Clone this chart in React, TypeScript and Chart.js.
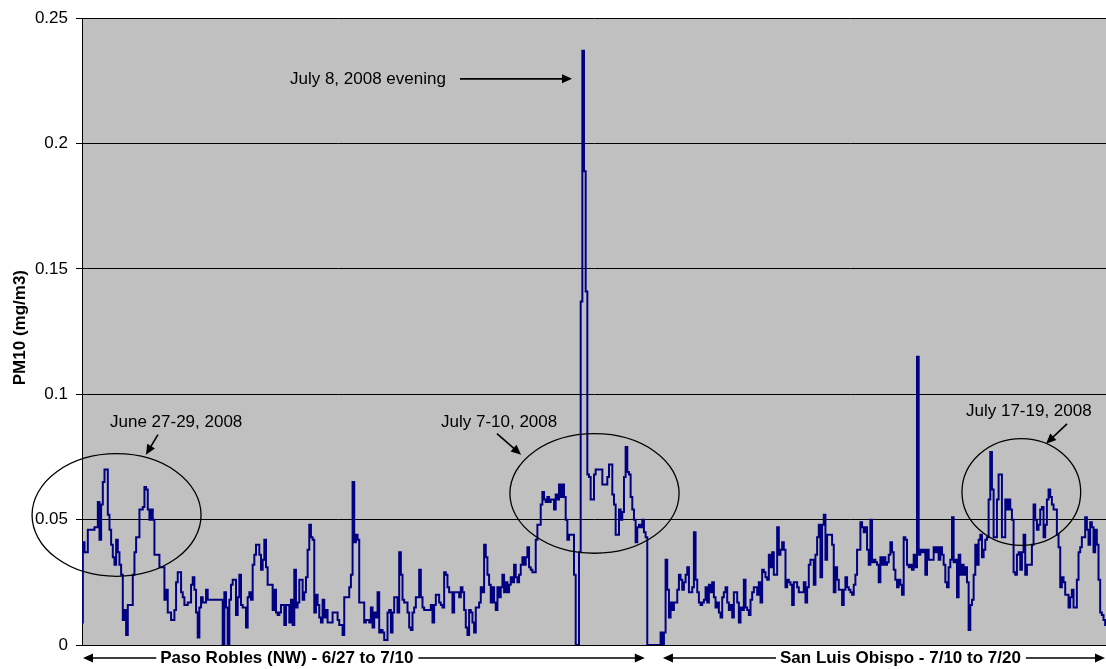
import React, { useEffect, useRef } from "react";
import { Chart, registerables } from "chart.js";

Chart.register(...registerables);

const FONT = '"Liberation Sans", Arial, Helvetica, sans-serif';

// Hourly PM10 readings (mg/m3), Paso Robles (NW) 6/27-7/10 then San Luis Obispo 7/10-7/20
const seg1 = [
  0.009, 0.041, 0.037, 0.037, 0.046, 0.046, 0.046, 0.046, 0.047, 0.047,
  0.057, 0.042, 0.056, 0.065, 0.070, 0.070, 0.052, 0.046, 0.040, 0.035,
  0.032, 0.042, 0.037, 0.032, 0.028, 0.010, 0.014, 0.004, 0.016, 0.016,
  0.016, 0.028, 0.037, 0.043, 0.043, 0.054, 0.054, 0.055, 0.063, 0.062,
  0.054, 0.050, 0.054, 0.050, 0.036, 0.036, 0.036, 0.031, 0.031, 0.031,
  0.018, 0.022, 0.013, 0.013, 0.010, 0.010, 0.014, 0.025, 0.029, 0.029,
  0.021, 0.019, 0.016, 0.016, 0.017, 0.017, 0.024, 0.027, 0.022, 0.013,
  0.003, 0.015, 0.019, 0.017, 0.017, 0.022,
];
const seg2 = [
  0.018, 0.018, 0.018, 0.018, 0.018, 0.018, 0.018, 0.018, 0.018, 0.000,
  0.021, 0.015, 0.000, 0.018, 0.024, 0.026, 0.026, 0.012, 0.019, 0.028,
  0.016, 0.015, 0.015, 0.007, 0.019, 0.021, 0.018, 0.032, 0.036, 0.040,
  0.040, 0.036, 0.030, 0.034, 0.042, 0.031, 0.024, 0.024, 0.024, 0.014,
  0.022, 0.013, 0.012, 0.013, 0.016, 0.016, 0.008, 0.016, 0.016, 0.009,
  0.018, 0.008, 0.030, 0.015, 0.017, 0.026, 0.026, 0.018, 0.021, 0.027,
  0.038, 0.048, 0.043, 0.042, 0.013, 0.020, 0.016, 0.011, 0.009, 0.018,
  0.011, 0.014, 0.009, 0.009, 0.009, 0.013, 0.013, 0.013,
];
const seg3 = [
  0.010, 0.008, 0.008, 0.004, 0.019, 0.019, 0.019, 0.023, 0.028, 0.065,
  0.041, 0.044, 0.042, 0.017, 0.017, 0.017, 0.009, 0.010, 0.010, 0.009,
  0.015, 0.007, 0.013, 0.011, 0.021, 0.005, 0.006, 0.005, 0.002, 0.002,
  0.013, 0.014, 0.005, 0.013, 0.019, 0.019, 0.013, 0.037, 0.028, 0.018,
  0.017, 0.017, 0.013, 0.007, 0.006, 0.013, 0.015, 0.019, 0.019, 0.030,
  0.019, 0.015, 0.014, 0.014, 0.014, 0.014, 0.016, 0.009, 0.016, 0.020,
  0.020, 0.017, 0.016, 0.015, 0.029, 0.028, 0.023, 0.021, 0.021, 0.013,
  0.021, 0.021, 0.021, 0.019, 0.023, 0.021, 0.014, 0.007,
];
const seg4 = [
  0.004, 0.014, 0.013, 0.009, 0.005, 0.015, 0.015, 0.017, 0.023, 0.021,
  0.040, 0.035, 0.028, 0.024, 0.017, 0.023, 0.017, 0.014, 0.023, 0.019,
  0.023, 0.028, 0.021, 0.025, 0.021, 0.024, 0.027, 0.025, 0.032, 0.027,
  0.025, 0.028, 0.032, 0.035, 0.032, 0.035, 0.039, 0.031, 0.030, 0.029,
  0.029, 0.042, 0.048, 0.048, 0.056, 0.061, 0.058, 0.057, 0.059, 0.057,
  0.058, 0.058, 0.054, 0.060, 0.058, 0.064, 0.059, 0.064, 0.059, 0.050,
  0.042, 0.044, 0.044, 0.044, 0.028, 0.000, 0.000, 0.037, 0.137, 0.237,
  0.189, 0.141, 0.068, 0.067, 0.058, 0.058, 0.068, 0.070,
];
const seg5 = [
  0.070, 0.070, 0.070, 0.064, 0.064, 0.064, 0.067, 0.072, 0.072, 0.060,
  0.056, 0.044, 0.044, 0.054, 0.050, 0.053, 0.067, 0.079, 0.069, 0.068,
  0.059, 0.054, 0.050, 0.041, 0.047, 0.048, 0.047, 0.050, 0.045, 0.043,
  0.000, 0.000, 0.000, 0.000, 0.000, 0.000, 0.000, 0.000, 0.005, 0.000,
  0.005, 0.034, 0.022, 0.011, 0.017, 0.014, 0.017, 0.017, 0.022, 0.028,
  0.026, 0.022, 0.025, 0.028, 0.031, 0.021, 0.021, 0.023, 0.045, 0.026,
  0.021, 0.017, 0.016, 0.017, 0.018, 0.023, 0.017, 0.024, 0.021, 0.025,
  0.019, 0.015, 0.017, 0.013, 0.011, 0.019, 0.021, 0.023,
];
const seg6 = [
  0.017, 0.014, 0.016, 0.011, 0.021, 0.021, 0.017, 0.009, 0.015, 0.014,
  0.026, 0.015, 0.014, 0.012, 0.018, 0.021, 0.023, 0.023, 0.020, 0.025,
  0.017, 0.030, 0.029, 0.027, 0.026, 0.036, 0.031, 0.037, 0.028, 0.028,
  0.047, 0.036, 0.038, 0.041, 0.038, 0.023, 0.026, 0.025, 0.024, 0.016,
  0.025, 0.025, 0.023, 0.021, 0.021, 0.021, 0.025, 0.017, 0.023, 0.032,
  0.034, 0.034, 0.024, 0.036, 0.043, 0.048, 0.027, 0.048, 0.052, 0.034,
  0.044, 0.044, 0.044, 0.040, 0.021, 0.031, 0.026, 0.022, 0.022, 0.016,
  0.022, 0.027, 0.023, 0.022, 0.021, 0.020, 0.024, 0.028,
];
const seg7 = [
  0.038, 0.038, 0.049, 0.047, 0.045, 0.047, 0.038, 0.032, 0.050, 0.033,
  0.034, 0.033, 0.032, 0.025, 0.035, 0.032, 0.035, 0.032, 0.033, 0.036,
  0.041, 0.037, 0.030, 0.026, 0.023, 0.026, 0.024, 0.020, 0.043, 0.042,
  0.032, 0.031, 0.032, 0.030, 0.036, 0.031, 0.115, 0.036, 0.038, 0.037,
  0.038, 0.028, 0.038, 0.034, 0.034, 0.034, 0.039, 0.037, 0.039, 0.034,
  0.039, 0.036, 0.032, 0.025, 0.023, 0.031, 0.034, 0.051, 0.033, 0.034,
  0.019, 0.036, 0.028, 0.032, 0.028, 0.031, 0.025, 0.006, 0.016, 0.018,
  0.028, 0.040, 0.032, 0.042, 0.044, 0.035, 0.038, 0.042,
];
const seg8 = [
  0.043, 0.058, 0.077, 0.062, 0.043, 0.043, 0.058, 0.068, 0.068, 0.043,
  0.043, 0.058, 0.054, 0.058, 0.054, 0.050, 0.029, 0.028, 0.036, 0.037,
  0.030, 0.037, 0.044, 0.028, 0.032, 0.032, 0.032, 0.040, 0.056, 0.050,
  0.046, 0.048, 0.054, 0.055, 0.043, 0.048, 0.058, 0.062, 0.059, 0.056,
  0.054, 0.054, 0.044, 0.039, 0.023, 0.027, 0.025, 0.020, 0.020, 0.015,
  0.019, 0.022, 0.015, 0.015, 0.026, 0.037, 0.039, 0.043, 0.043, 0.051,
  0.046, 0.040, 0.049, 0.047, 0.037, 0.046, 0.040, 0.026, 0.013, 0.012,
  0.010, 0.008,
];

const pm10 = [...seg1, ...seg2, ...seg3, ...seg4, ...seg5, ...seg6, ...seg7, ...seg8];
const lastIndex = pm10.length - 1;

const yTickLabels = ["0", "0.05", "0.1", "0.15", "0.2", "0.25"];
const yTitle = "PM10 (mg/m3)";

// Annotations (in data units: x = reading index, y = mg/m3)
const ellipses = [
  { x0: -30, x1: 71.5, y0: 0.0274, y1: 0.0763 },
  { x0: 257, x1: 358.6, y0: 0.0366, y1: 0.0843 },
  { x0: 528.5, x1: 599.8, y0: 0.0397, y1: 0.0823 },
];
const notes = [
  { text: "June 27-29, 2008", x: 16.8, y: 0.089 },
  { text: "July 7-10, 2008", x: 215.6, y: 0.089 },
  { text: "July 17-19, 2008", x: 530.9, y: 0.0934 },
  { text: "July 8, 2008 evening", x: 124.9, y: 0.2258 },
];
const arrows = [
  { x0: 45.6, y0: 0.0839, x1: 38.4, y1: 0.0759 },
  { x0: 249.2, y0: 0.0843, x1: 263.7, y1: 0.0759 },
  { x0: 591.6, y0: 0.0882, x1: 579.0, y1: 0.0803 },
  { x0: 227.0, y0: 0.2258, x1: 294.3, y1: 0.2258 },
];
const periods = [
  { text: "Paso Robles (NW) - 6/27 to 7/10", from: 0, to: 338, textAt: 47 },
  { text: "San Luis Obispo - 7/10 to 7/20", from: 348.3, to: lastIndex, textAt: 419.2 },
];

function head(ctx: CanvasRenderingContext2D, x0: number, y0: number, x1: number, y1: number, len: number, half: number) {
  const a = Math.atan2(y1 - y0, x1 - x0);
  const c = Math.cos(a), s = Math.sin(a);
  ctx.beginPath();
  ctx.moveTo(x1, y1);
  ctx.lineTo(x1 - len * c + half * s, y1 - len * s - half * c);
  ctx.lineTo(x1 - len * c - half * s, y1 - len * s + half * c);
  ctx.closePath();
  ctx.fill();
}

function arrow(ctx: CanvasRenderingContext2D, x0: number, y0: number, x1: number, y1: number) {
  const a = Math.atan2(y1 - y0, x1 - x0);
  const len = 10;
  ctx.beginPath();
  ctx.moveTo(x0, y0);
  ctx.lineTo(x1 - (len - 2) * Math.cos(a), y1 - (len - 2) * Math.sin(a));
  ctx.stroke();
  head(ctx, x0, y0, x1, y1, len, 4.5);
}

const overlay = {
  id: "overlay",
  beforeDraw(chart: any) {
    const { ctx, chartArea: a } = chart;
    ctx.save();
    ctx.fillStyle = "#C0C0C0";
    ctx.fillRect(a.left, a.top, a.right - a.left, a.bottom - a.top);
    ctx.restore();
  },
  afterDraw(chart: any) {
    const { ctx, chartArea: a } = chart;
    const xs = chart.scales.x;
    const ys = chart.scales.y;
    ctx.save();
    ctx.strokeStyle = "#000";
    ctx.fillStyle = "#000";

    ctx.lineWidth = 1.3;
    for (const e of ellipses) {
      const l = xs.getPixelForValue(e.x0), r = xs.getPixelForValue(e.x1);
      const t = ys.getPixelForValue(e.y1), b = ys.getPixelForValue(e.y0);
      ctx.beginPath();
      ctx.ellipse((l + r) / 2, (t + b) / 2, (r - l) / 2, (b - t) / 2, 0, 0, Math.PI * 2);
      ctx.stroke();
    }

    ctx.lineWidth = 1.6;
    for (const ar of arrows) {
      arrow(ctx, xs.getPixelForValue(ar.x0), ys.getPixelForValue(ar.y0), xs.getPixelForValue(ar.x1), ys.getPixelForValue(ar.y1));
    }

    ctx.font = `17px ${FONT}`;
    ctx.textBaseline = "middle";
    ctx.textAlign = "left";
    for (const n of notes) {
      ctx.fillText(n.text, xs.getPixelForValue(n.x), ys.getPixelForValue(n.y));
    }

    // period labels below the axis
    const by = a.bottom + 13;
    ctx.font = `bold 17px ${FONT}`;
    ctx.lineWidth = 1.6;
    for (const p of periods) {
      const l = xs.getPixelForValue(p.from) + 1;
      const r = Math.min(xs.getPixelForValue(p.to), chart.width - 1);
      const tl = xs.getPixelForValue(p.textAt);
      const tw = ctx.measureText(p.text).width;
      ctx.fillText(p.text, tl, by);
      ctx.beginPath();
      ctx.moveTo(l + 8, by);
      ctx.lineTo(tl - 4, by);
      ctx.moveTo(tl + tw + 5, by);
      ctx.lineTo(r - 8, by);
      ctx.stroke();
      head(ctx, l + 20, by, l, by, 10, 4.5);
      head(ctx, r - 20, by, r, by, 10, 4.5);
    }

    // y axis title
    ctx.translate(20, (a.top + a.bottom) / 2 - 4);
    ctx.rotate(-Math.PI / 2);
    ctx.textAlign = "center";
    ctx.fillText(yTitle, 0, 0);
    ctx.restore();
  },
};

export default function App() {
  const ref = useRef<HTMLCanvasElement | null>(null);
  useEffect(() => {
    if (!ref.current) return;
    Chart.defaults.font.family = FONT;
    const chart = new Chart(ref.current, {
      type: "line",
      data: {
        datasets: [
          {
            label: "PM10",
            data: pm10.map((v, i) => ({ x: i, y: v })),
            borderColor: "#000080",
            borderWidth: 2,
            pointRadius: 0,
            stepped: "middle",
            fill: false,
          },
        ],
      },
      options: {
        responsive: false,
        animation: false,
        devicePixelRatio: 1,
        layout: { padding: { top: 16, right: 0, bottom: 0, left: 0 } },
        plugins: { legend: { display: false }, tooltip: { enabled: false }, title: { display: false } },
        scales: {
          x: {
            type: "linear",
            min: 0,
            max: lastIndex,
            ticks: { display: false },
            grid: { display: false, drawTicks: false },
            border: { display: true, color: "#000", width: 1 },
            afterFit(scale: any) {
              scale.height = 24;
            },
          },
          y: {
            min: 0,
            max: 0.25,
            ticks: {
              stepSize: 0.05,
              padding: 8,
              color: "#000",
              font: { size: 17, family: FONT },
              callback: (_v: any, i: number) => yTickLabels[i],
            },
            grid: { color: "#000", lineWidth: 1, tickLength: 6, drawTicks: true },
            border: { display: true, color: "#000", width: 1 },
            afterFit(scale: any) {
              scale.width = 82;
            },
          },
        },
      },
      plugins: [overlay],
    });
    return () => chart.destroy();
  }, []);
  return (
    <div style={{ position: "fixed", left: 0, top: 0, width: 1106, height: 669, background: "#fff" }}>
      <canvas ref={ref} width={1106} height={669} style={{ display: "block" }} />
    </div>
  );
}
